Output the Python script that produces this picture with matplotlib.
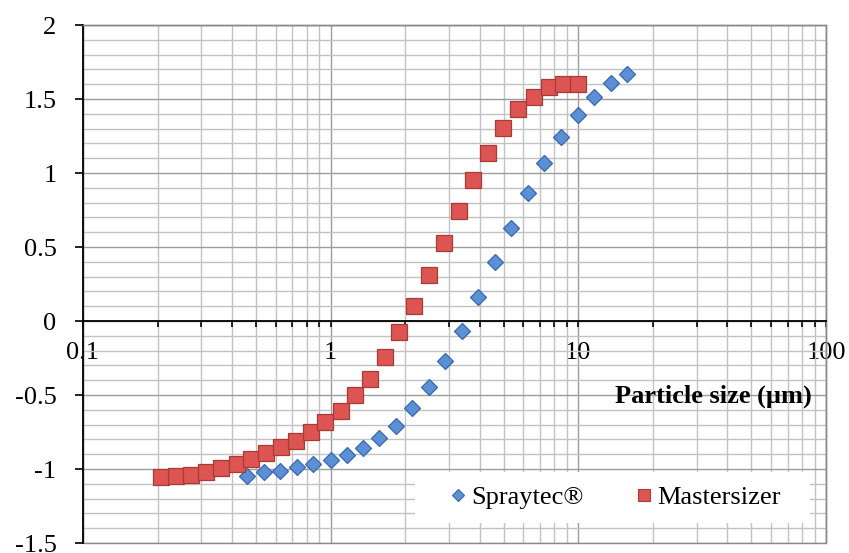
import matplotlib
matplotlib.use("Agg")
import matplotlib.pyplot as plt
from matplotlib.ticker import FixedLocator, FuncFormatter, MultipleLocator, NullFormatter
from matplotlib.patches import Rectangle
from matplotlib.lines import Line2D

# ---- data ----
spraytec_x = [0.458, 0.538, 0.624, 0.733, 0.851, 1.000, 1.160, 1.354, 1.571, 1.835,
              2.135, 2.501, 2.902, 3.380, 3.943, 4.606, 5.345, 6.278, 7.263, 8.506,
              9.936, 11.59, 13.50, 15.71]
spraytec_y = [-1.045, -1.022, -1.011, -0.984, -0.968, -0.939, -0.905, -0.860, -0.793, -0.709,
              -0.590, -0.444, -0.268, -0.068, 0.160, 0.401, 0.631, 0.863, 1.070, 1.245,
              1.392, 1.516, 1.606, 1.667]

master_x = [0.207, 0.237, 0.273, 0.314, 0.361, 0.418, 0.477, 0.548, 0.630, 0.724,
            0.830, 0.951, 1.10, 1.25, 1.44, 1.65, 1.89, 2.18, 2.50, 2.87,
            3.29, 3.76, 4.33, 4.98, 5.72, 6.60, 7.59, 8.64, 9.94]
master_y = [-1.052, -1.047, -1.038, -1.022, -0.995, -0.968, -0.935, -0.894, -0.851, -0.809,
            -0.748, -0.680, -0.606, -0.502, -0.390, -0.245, -0.076, 0.103, 0.313, 0.525,
            0.741, 0.953, 1.137, 1.302, 1.430, 1.516, 1.579, 1.599, 1.599]

series_names = ["Spraytec®", "Mastersizer"]
x_ticks = [0.1, 1, 10, 100]
y_ticks = [-1.5, -1, -0.5, 0, 0.5, 1, 1.5, 2]
x_label = "Particle size (µm)"

# ---- style ----
plt.rcParams['font.family'] = ['Liberation Serif', 'DejaVu Serif']
plt.rcParams['axes.unicode_minus'] = False
FS = 19

W, H = 849, 553
fig = plt.figure(figsize=(W / 100, H / 100), dpi=100)
ax = fig.add_axes([83 / W, 1 - 543 / H, (826 - 83) / W, (543 - 25) / H])

ax.set_xscale('log')
ax.set_xlim(0.1, 100)
ax.set_ylim(-1.5, 2)

# grid
minor_c = '#c2c2c2'
major_c = '#9c9c9c'
ax.xaxis.set_major_locator(FixedLocator(x_ticks))
ax.xaxis.set_minor_locator(FixedLocator([m * d for d in [0.1, 1, 10] for m in range(2, 10)]))
ax.yaxis.set_major_locator(FixedLocator(y_ticks))
ax.yaxis.set_minor_locator(MultipleLocator(0.1))
ax.xaxis.set_major_formatter(FuncFormatter(lambda v, p: f"{v:g}"))
ax.xaxis.set_minor_formatter(NullFormatter())
ax.yaxis.set_major_formatter(FuncFormatter(lambda v, p: f"{v:g}"))
ax.grid(True, which='minor', color=minor_c, linewidth=1.0, zorder=0)
ax.grid(True, which='major', color=major_c, linewidth=1.0, zorder=0)
ax.set_axisbelow(True)

# spines
ax.spines['bottom'].set_position(('data', 0))
ax.spines['bottom'].set_color('black')
ax.spines['bottom'].set_linewidth(1.3)
ax.spines['left'].set_color('black')
ax.spines['left'].set_linewidth(1.3)
for s in ['top', 'right']:
    ax.spines[s].set_color('#8a8a8a')
    ax.spines[s].set_linewidth(1.0)
ax.add_patch(Rectangle((0, 0), 1, 1, transform=ax.transAxes, fill=False,
                       edgecolor='#8a8a8a', linewidth=1.0, zorder=1, clip_on=False))

ax.tick_params(axis='x', which='both', direction='out', length=4, width=1.2,
               labelsize=FS, pad=11)
ax.tick_params(axis='y', which='major', direction='out', length=6, width=1.2,
               labelsize=FS, pad=13)
ax.tick_params(axis='y', which='minor', length=0)

# data
ax.plot(spraytec_x, spraytec_y, linestyle='none', marker='D', markersize=8.3,
        markerfacecolor='#5b8fd6', markeredgecolor='#3b68aa', markeredgewidth=0.9,
        zorder=4, label=series_names[0], clip_on=False)
ax.plot(master_x, master_y, linestyle='none', marker='s', markersize=11,
        markerfacecolor='#dc5552', markeredgecolor='#a83a37', markeredgewidth=0.9,
        zorder=5, label=series_names[1], clip_on=False)

# axis title
ax.text(0.981, 0.284, x_label, transform=ax.transAxes, ha='right', va='center',
        fontsize=FS, fontweight='bold', zorder=6)

# legend box
ax.add_patch(Rectangle((0.4468, 0.0386), 0.9785 - 0.4468, 0.1371 - 0.0386,
                       transform=ax.transAxes, facecolor='white', edgecolor='none', zorder=3))
handles = [
    Line2D([], [], linestyle='none', marker='D', markersize=6.5,
           markerfacecolor='#5b8fd6', markeredgecolor='#3b68aa', markeredgewidth=0.8),
    Line2D([], [], linestyle='none', marker='s', markersize=9,
           markerfacecolor='#dc5552', markeredgecolor='#a83a37', markeredgewidth=0.8),
]
leg = ax.legend(handles, series_names, loc='center', bbox_to_anchor=(0.717, 0.0879),
                ncol=2, frameon=False, fontsize=FS, handlelength=0.6,
                handletextpad=0.2, columnspacing=2.0, borderpad=0)
leg.set_zorder(7)

fig.savefig('out.png', dpi=100)
